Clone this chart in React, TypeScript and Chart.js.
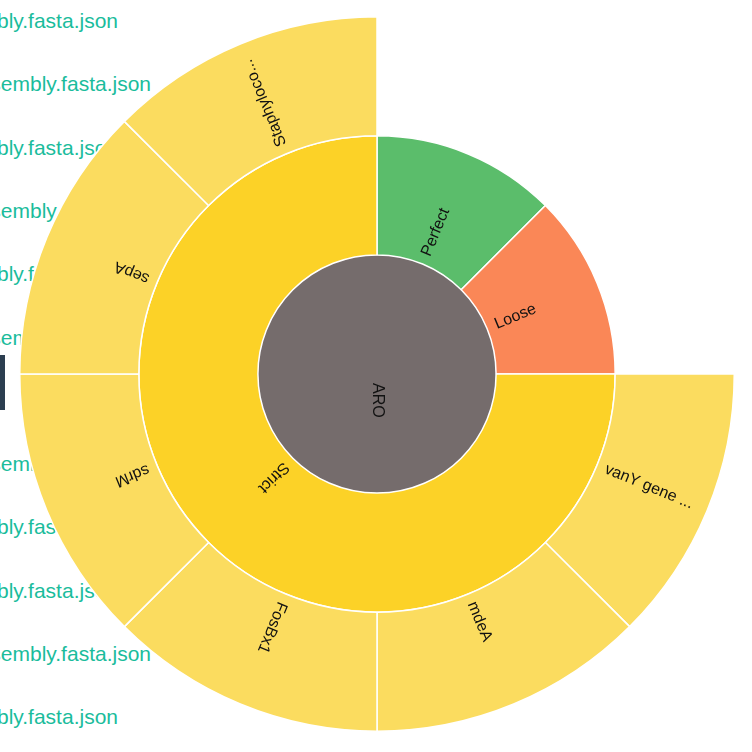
import React, { useEffect, useRef } from "react";
import { Chart, registerables } from "chart.js";

Chart.register(...registerables);

// ---- data ----
const rootLabel = "ARO";
const rootValue = 8;
const levelLabels = ["Perfect", "Loose", "Strict"];
const levelValues = [1, 1, 6];
const geneLabels = ["vanY gene ...", "mdeA", "FosBx1", "sdrM", "sepA", "Staphyloco..."];
const geneValues = [1, 1, 1, 1, 1, 1];
const geneParents = ["Strict", "Strict", "Strict", "Strict", "Strict", "Strict"];

const fileNames = [
  "SRR1_assembly.fasta.json",
  "SRR10_assembly.fasta.json",
  "SRR2_assembly.fasta.json",
  "SRR11_assembly.fasta.json",
  "SRR3_assembly.fasta.json",
  "SRR12_assembly.fasta.json",
  "",
  "SRR13_assembly.fasta.json",
  "SRR4_assembly.fasta.json",
  "SRR5_assembly.fasta.json",
  "SRR14_assembly.fasta.json",
  "SRR6_assembly.fasta.json",
];

// ---- styles ----
const rootColor = "#756c6c";
const levelColors: Record<string, string> = {
  Perfect: "#5bbd6b",
  Loose: "#fa8757",
  Strict: "#fcd227",
};
const geneColor = "#fbdc5f";
const fileLineEnds = [118, 151, 118, 151, 118, 151, 151, 151, 118, 118, 151, 118];

const labelPlugin = {
  id: "sunburstLabels",
  afterDatasetsDraw(chart: any) {
    const ctx = chart.ctx as CanvasRenderingContext2D;
    chart.data.datasets.forEach((ds: any, di: number) => {
      const meta = chart.getDatasetMeta(di);
      const labels: string[] = ds.sliceLabels || [];
      meta.data.forEach((arc: any, i: number) => {
        const text = labels[i];
        if (!text) return;
        const p = arc.getProps(["x", "y", "startAngle", "endAngle", "innerRadius"], true);
        const mid = (p.startAngle + p.endAngle) / 2;
        ctx.save();
        ctx.translate(p.x, p.y);
        ctx.rotate(mid);
        ctx.font = "16px 'Liberation Sans', Arial, sans-serif";
        ctx.fillStyle = "#111";
        ctx.textAlign = "left";
        ctx.textBaseline = "middle";
        ctx.fillText(text, p.innerRadius + 9, 0);
        ctx.restore();
      });
    });
  },
};

export default function App() {
  const ref = useRef<HTMLCanvasElement>(null);

  useEffect(() => {
    if (!ref.current) return;

    // outer ring: children of each level, or a transparent spacer
    const outerData: number[] = [];
    const outerColors: string[] = [];
    const outerBorders: number[] = [];
    const outerLabels: string[] = [];
    levelLabels.forEach((lv, li) => {
      const kids = geneLabels.map((g, gi) => ({ g, gi })).filter((k) => geneParents[k.gi] === lv);
      if (kids.length === 0) {
        outerData.push(levelValues[li]);
        outerColors.push("rgba(0,0,0,0)");
        outerBorders.push(0);
        outerLabels.push("");
      } else {
        kids.forEach((k) => {
          outerData.push(geneValues[k.gi]);
          outerColors.push(geneColor);
          outerBorders.push(1.5);
          outerLabels.push(k.g);
        });
      }
    });

    const chart = new Chart(ref.current, {
      type: "doughnut",
      data: {
        labels: outerLabels,
        datasets: [
          {
            data: outerData,
            backgroundColor: outerColors,
            borderColor: "#ffffff",
            borderWidth: outerBorders,
            sliceLabels: outerLabels,
          } as any,
          {
            data: levelValues,
            backgroundColor: levelLabels.map((l) => levelColors[l]),
            borderColor: "#ffffff",
            borderWidth: 1.5,
            sliceLabels: levelLabels,
          } as any,
          {
            data: [rootValue],
            backgroundColor: [rootColor],
            borderWidth: 0,
            sliceLabels: [rootLabel],
          } as any,
        ],
      },
      options: {
        responsive: false,
        maintainAspectRatio: false,
        animation: false,
        devicePixelRatio: 1,
        cutout: 0,
        events: [],
        layout: { padding: 0 },
        plugins: {
          legend: { display: false },
          tooltip: { enabled: false },
        },
      },
      plugins: [labelPlugin],
    });
    return () => chart.destroy();
  }, []);

  return (
    <div
      style={{
        position: "fixed",
        left: 0,
        top: 0,
        width: 752,
        height: 752,
        overflow: "hidden",
        background: "#ffffff",
      }}
    >
      {fileNames.map((name, i) =>
        name ? (
          <div
            key={i}
            style={{
              position: "absolute",
              left: fileLineEnds[i],
              top: 30 + 63.3 * i - 21,
              transform: "translateX(-100%)",
              whiteSpace: "nowrap",
              font: "21px 'Liberation Sans', Arial, sans-serif",
              lineHeight: "24px",
              color: "#1abc9c",
            }}
          >
            {name}
          </div>
        ) : null
      )}
      <div
        style={{
          position: "absolute",
          left: 0,
          top: 355,
          width: 5,
          height: 55,
          background: "#2c3e50",
        }}
      />
      <canvas
        ref={ref}
        width={716}
        height={716}
        style={{ position: "absolute", left: 19, top: 16, width: 716, height: 716 }}
      />
    </div>
  );
}
